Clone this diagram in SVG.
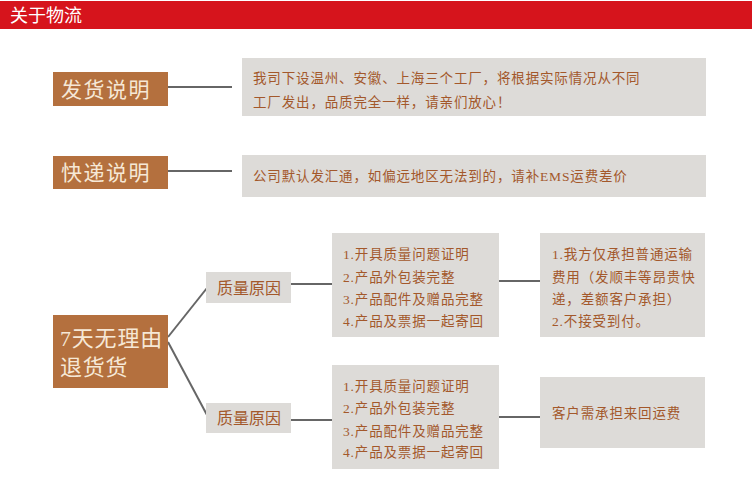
<svg xmlns="http://www.w3.org/2000/svg" width="752" height="483" viewBox="0 0 752 483">
<style>
.hd{fill:#d6141c}
.lbl{fill:#b4703e}
.box{fill:#dddbd8}
.lt{font-family:"Liberation Serif","Noto Sans CJK SC",serif;fill:#f6e8d6}
.t{font-family:"Liberation Serif","Noto Sans CJK SC",serif;font-size:13.5px;fill:#a3582b;letter-spacing:0.85px}
.m{font-family:"Liberation Serif","Noto Sans CJK SC",serif;font-size:16px;fill:#a3582b}
.c{stroke:#666;stroke-width:2;fill:none}
</style>
<rect width="752" height="483" fill="#fff"/>
<g id="header">
<rect class="hd" x="0" y="1" width="752" height="28"/>
<text x="10" y="22" font-family="Liberation Serif,'Noto Sans CJK SC',serif" font-size="18" fill="#fff">关于物流</text>
</g>
<g id="connectors">
<line class="c" x1="168" y1="87" x2="232" y2="87"/>
<line class="c" x1="168" y1="171" x2="232" y2="171"/>
<line class="c" x1="168" y1="337" x2="207" y2="288"/>
<line class="c" x1="168" y1="342" x2="207" y2="415"/>
<line class="c" x1="291" y1="284" x2="334" y2="284"/>
<line class="c" x1="291" y1="420" x2="334" y2="420"/>
<line class="c" x1="499" y1="281" x2="540" y2="281"/>
<line class="c" x1="499" y1="417" x2="540" y2="417"/>
</g>
<g id="n-fahuo">
<rect class="lbl" x="53" y="72" width="115" height="34"/>
<text class="lt" x="61" y="97" font-size="21" letter-spacing="1.5">发货说明</text>
</g>
<g id="n-fahuo-desc">
<rect class="box" x="242" y="58" width="464" height="58"/>
<text class="t" x="253" y="83">我司下设温州、安徽、上海三个工厂，将根据实际情况从不同</text>
<text class="t" x="253" y="107">工厂发出，品质完全一样，请亲们放心！</text>
</g>
<g id="n-kuaidi">
<rect class="lbl" x="53" y="156" width="115" height="33"/>
<text class="lt" x="61" y="180" font-size="21" letter-spacing="1.5">快递说明</text>
</g>
<g id="n-kuaidi-desc">
<rect class="box" x="242" y="155" width="464" height="42"/>
<text class="t" x="253" y="181">公司默认发汇通，如偏远地区无法到的，请补EMS运费差价</text>
</g>
<g id="n-7days">
<rect class="lbl" x="53" y="315" width="115" height="73"/>
<text class="lt" x="60" y="346" font-size="22" letter-spacing="0.8">7天无理由</text>
<text class="lt" x="60" y="375" font-size="22" letter-spacing="0.8">退货货</text>
</g>
<g id="n-reason1">
<rect class="box" x="206" y="272" width="85" height="31"/>
<text class="m" x="217" y="294">质量原因</text>
</g>
<g id="n-reason2">
<rect class="box" x="206" y="403" width="85" height="30"/>
<text class="m" x="217" y="424">质量原因</text>
</g>
<g id="n-list1">
<rect class="box" x="332" y="233" width="167" height="104"/>
<text class="t" x="343" y="259">1.开具质量问题证明</text>
<text class="t" x="343" y="282">2.产品外包装完整</text>
<text class="t" x="343" y="304">3.产品配件及赠品完整</text>
<text class="t" x="343" y="326">4.产品及票据一起寄回</text>
</g>
<g id="n-list2">
<rect class="box" x="332" y="365" width="167" height="104"/>
<text class="t" x="343" y="391">1.开具质量问题证明</text>
<text class="t" x="343" y="413">2.产品外包装完整</text>
<text class="t" x="343" y="436">3.产品配件及赠品完整</text>
<text class="t" x="343" y="457">4.产品及票据一起寄回</text>
</g>
<g id="n-ship1">
<rect class="box" x="540" y="233" width="165" height="104"/>
<text class="t" x="552" y="259">1.我方仅承担普通运输</text>
<text class="t" x="552" y="282">费用（发顺丰等昂贵快</text>
<text class="t" x="552" y="304">递，差额客户承担）</text>
<text class="t" x="552" y="326">2.不接受到付。</text>
</g>
<g id="n-ship2">
<rect class="box" x="540" y="377" width="165" height="71"/>
<text class="t" x="552" y="418">客户需承担来回运费</text>
</g>
</svg>
